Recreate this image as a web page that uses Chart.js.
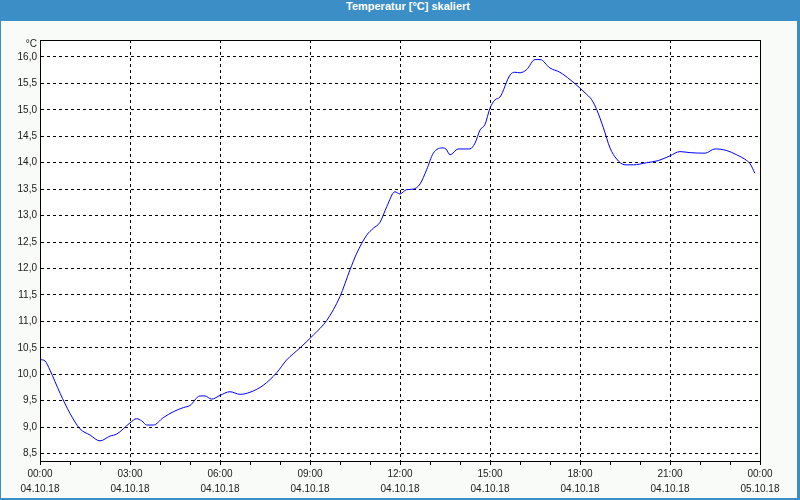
<!DOCTYPE html>
<html>
<head>
<meta charset="utf-8">
<script src="https://cdn.jsdelivr.net/npm/chart.js@4/dist/chart.umd.min.js"></script>
<style>
    body { margin: 0; background: #ffffff; }
    #frame { position: relative; width: 800px; height: 500px; background: #3c8fc6; overflow: hidden; }
    #title { position: absolute; left: 0; top: 0; width: 816px; height: 21px; line-height: 20px; text-align: center;
             color: #ffffff; font: bold 11px "Liberation Sans", sans-serif; }
    #panel { position: absolute; left: 1px; top: 21px; width: 796px; height: 477px; background: #f9fbf9; }
</style>
</head>
<body>
<div id="frame">
    <div id="title">Temperatur [°C] skaliert</div>
    <div id="panel"><canvas id="temp-chart" width="796" height="477"></canvas></div>
</div>
<script>
// time in hours since 04.10.18 00:00
const hours = [
    0.00, 0.17, 0.33, 0.67, 1.00, 1.33, 1.67, 2.00, 2.33, 2.56,
    3.00, 3.22, 3.39, 3.56, 3.78, 4.11, 4.44, 4.78, 5.00, 5.33,
    5.50, 5.72, 6.00, 6.33, 6.67, 7.00, 7.44, 7.89, 8.22, 8.67,
    9.11, 9.56, 10.00, 10.33, 10.56, 10.89, 11.11, 11.33, 11.56, 11.83,
    12.00, 12.22, 12.44, 12.67, 12.89, 13.11, 13.44, 13.53, 13.67, 13.94,
    14.33, 14.50, 14.67, 14.83, 15.00, 15.17, 15.33, 15.67, 15.83, 16.00,
    16.22, 16.50, 16.67, 17.00, 17.33, 17.67, 18.00, 18.17, 18.39, 18.56,
    18.78, 19.00, 19.22, 19.50, 19.78, 20.22, 20.61, 21.00, 21.33, 21.67,
    22.17, 22.50, 22.89, 23.22, 23.56, 23.67, 23.83
];
const temperatures = [
    10.28, 10.25, 10.08, 9.64, 9.26, 8.97, 8.85, 8.74, 8.83, 8.87,
    9.08, 9.16, 9.12, 9.04, 9.04, 9.18, 9.29, 9.37, 9.41, 9.59,
    9.59, 9.53, 9.60, 9.67, 9.62, 9.66, 9.79, 10.03, 10.27, 10.50,
    10.74, 11.02, 11.47, 11.97, 12.29, 12.63, 12.76, 12.87, 13.17, 13.45,
    13.41, 13.49, 13.50, 13.60, 13.87, 14.18, 14.28, 14.26, 14.15, 14.26,
    14.26, 14.37, 14.62, 14.72, 15.03, 15.19, 15.24, 15.66, 15.71, 15.70,
    15.76, 15.95, 15.95, 15.79, 15.71, 15.57, 15.41, 15.32, 15.19, 15.00,
    14.66, 14.28, 14.07, 13.96, 13.96, 14.00, 14.04, 14.13, 14.21, 14.19,
    14.18, 14.26, 14.23, 14.15, 14.04, 13.98, 13.80
];
const xTickTimes = ['00:00', '03:00', '06:00', '09:00', '12:00', '15:00', '18:00', '21:00', '00:00'];
const xTickDates = ['04.10.18', '04.10.18', '04.10.18', '04.10.18', '04.10.18', '04.10.18', '04.10.18', '04.10.18', '05.10.18'];
const yUnit = '°C';

const points = hours.map((h, i) => ({ x: h, y: temperatures[i] }));

// white plot area, box around it and the unit label
const plotFrame = {
    id: 'plotFrame',
    beforeDraw(chart) {
        const { ctx, chartArea: a } = chart;
        ctx.save();
        ctx.fillStyle = '#ffffff';
        ctx.fillRect(a.left, a.top, a.right - a.left, a.bottom - a.top);
        ctx.restore();
    },
    afterDraw(chart) {
        const { ctx, chartArea: a } = chart;
        ctx.save();
        ctx.strokeStyle = '#000000';
        ctx.lineWidth = 1;
        ctx.strokeRect(Math.round(a.left) + 0.5, Math.round(a.top) + 0.5, Math.round(a.right - a.left), Math.round(a.bottom - a.top));
        ctx.fillStyle = '#1a1a1a';
        ctx.font = '10px "Liberation Sans", sans-serif';
        ctx.textAlign = 'right';
        ctx.textBaseline = 'middle';
        ctx.fillText(yUnit, a.left - 3, a.top + 4);
        ctx.restore();
    }
};

const ctx = document.getElementById('temp-chart').getContext('2d');
new Chart(ctx, {
    type: 'line',
    data: {
        datasets: [{
            data: points,
            borderColor: '#0000ff',
            borderWidth: 1,
            pointRadius: 0,
            cubicInterpolationMode: 'monotone',
            fill: false
        }]
    },
    options: {
        responsive: false,
        animation: false,
        layout: { padding: { top: 19, right: 37, left: 0, bottom: 0 } },
        plugins: { legend: { display: false }, tooltip: { enabled: false } },
        scales: {
            x: {
                type: 'linear',
                min: 0,
                max: 24,
                afterFit: (scale) => { scale.height = 37; },
                border: { display: true, color: '#000000', width: 1, dash: [3, 3] },
                grid: {
                    color: (c) => (c.tick && c.tick.value % 3 === 0 ? '#000000' : 'rgba(0,0,0,0)'),
                    tickColor: '#000000',
                    tickLength: 4,
                    tickBorderDash: []
                },
                ticks: {
                    stepSize: 1,
                    autoSkip: false,
                    maxRotation: 0,
                    padding: 1,
                    color: '#1a1a1a',
                    font: { family: '"Liberation Sans", sans-serif', size: 10, lineHeight: 1.55 },
                    callback: (v) => (v % 3 === 0 ? [xTickTimes[v / 3], xTickDates[v / 3]] : '')
                }
            },
            y: {
                min: 8.36,
                max: 16.32,
                afterFit: (scale) => { scale.width = 39; },
                border: { display: true, color: '#000000', width: 1, dash: [3, 3] },
                grid: { color: '#000000', drawTicks: false },
                ticks: {
                    stepSize: 0.5,
                    includeBounds: false,
                    padding: 3,
                    color: '#1a1a1a',
                    font: { family: '"Liberation Sans", sans-serif', size: 10 },
                    callback: (v) => v.toFixed(1).replace('.', ',')
                }
            }
        }
    },
    plugins: [plotFrame]
});
</script>
</body>
</html>
